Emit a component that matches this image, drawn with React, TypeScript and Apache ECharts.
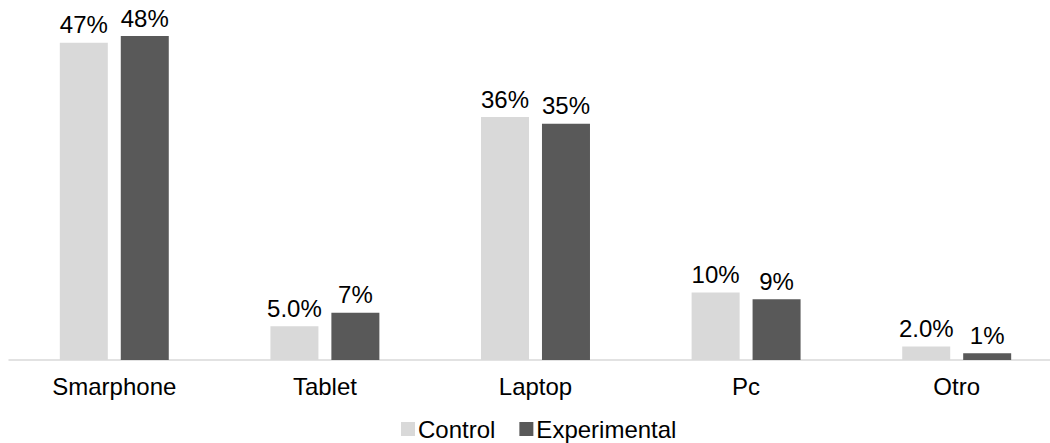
import React, { useEffect, useRef } from "react";
import * as echarts from "echarts";

const categories = ["Smarphone", "Tablet", "Laptop", "Pc", "Otro"];
const controlValues = [47, 5.0, 36, 10, 2.0];
const experimentalValues = [48, 7, 35, 9, 1];
const controlLabels = ["47%", "5.0%", "36%", "10%", "2.0%"];
const experimentalLabels = ["48%", "7%", "35%", "9%", "1%"];
const seriesNames = ["Control", "Experimental"];

const FONT = "'Liberation Sans', Arial, sans-serif";

export default function App() {
  const ref = useRef<HTMLDivElement>(null);
  useEffect(() => {
    if (!ref.current) return;
    const chart = echarts.init(ref.current, undefined, { renderer: "svg" });
    chart.setOption({
      animation: false,
      textStyle: { fontFamily: FONT },
      grid: { left: 9, right: 8, top: 22.5, bottom: 83, containLabel: false },
      legend: {
        data: seriesNames,
        left: 401,
        top: 417,
        padding: 0,
        itemWidth: 14,
        itemHeight: 14,
        itemGap: 24,
        icon: "rect",
        textStyle: { fontSize: 24, color: "#000", fontFamily: FONT, padding: [0, 0, 0, -2] },
      },
      xAxis: {
        type: "category",
        data: categories,
        axisLine: { show: true, lineStyle: { color: "#d9d9d9", width: 1.5 } },
        axisTick: { show: false },
        axisLabel: { fontSize: 24, color: "#000", fontFamily: FONT, margin: 14 },
      },
      yAxis: {
        type: "value",
        min: 0,
        max: 50,
        show: false,
        splitLine: { show: false },
      },
      series: [
        {
          name: seriesNames[0],
          type: "bar",
          data: controlValues,
          barWidth: 48,
          barGap: "27%",
          itemStyle: { color: "#d9d9d9" },
          label: {
            show: true,
            position: "top",
            distance: 6,
            fontSize: 24,
            color: "#000",
            fontFamily: FONT,
            formatter: (p: any) => controlLabels[p.dataIndex],
          },
        },
        {
          name: seriesNames[1],
          type: "bar",
          data: experimentalValues,
          barWidth: 48,
          itemStyle: { color: "#595959" },
          label: {
            show: true,
            position: "top",
            distance: 6,
            fontSize: 24,
            color: "#000",
            fontFamily: FONT,
            formatter: (p: any) => experimentalLabels[p.dataIndex],
          },
        },
      ],
    });
    return () => chart.dispose();
  }, []);
  return (
    <div
      style={{
        position: "fixed",
        left: 0,
        top: 0,
        width: 1050,
        height: 443,
        overflow: "hidden",
        background: "#fff",
      }}
    >
      <div ref={ref} style={{ width: 1070, height: 443 }} />
    </div>
  );
}
